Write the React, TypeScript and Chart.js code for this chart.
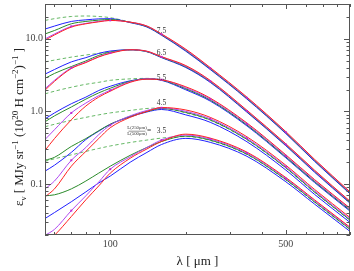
import React, { useEffect, useRef } from "react";
import { Chart, registerables } from "chart.js";

Chart.register(...registerables);

// wavelength grid (μm)
const wavelengths = [55, 60, 70, 80, 90, 100, 120, 140, 160, 200, 250, 350, 500, 650, 900];

// L(250)/L(500) = 7.5
const red75 = [9.54, 11.26, 14.46, 16.03, 17.06, 17.82, 16.9, 14.92, 11.62, 7.16, 4.01, 1.574, 0.527, 0.22, 0.0784];
const mag75 = [9.94, 11.62, 14.78, 16.23, 17.28, 17.88, 16.9, 14.92, 11.51, 7.0, 3.93, 1.539, 0.516, 0.215, 0.0767];
const green75 = [11.62, 12.96, 16.03, 17.28, 17.99, 18.39, 16.8, 14.69, 11.33, 6.88, 3.86, 1.511, 0.506, 0.211, 0.0753];
const blue75 = [13.58, 14.92, 17.28, 18.16, 18.74, 18.86, 16.64, 14.46, 11.15, 6.72, 3.77, 1.478, 0.495, 0.206, 0.0736];
const dash75 = [17.82, 18.86, 20.2, 20.52, 20.2, 19.45, 16.9, 14.69, 11.33, 6.88, 3.86, 1.511, 0.506, 0.211, 0.0753];

// 6.5
const red65 = [1.957, 2.593, 3.892, 4.695, 5.61, 6.28, 7.05, 6.73, 5.66, 4.27, 2.67, 1.038, 0.359, 0.156, 0.0583];
const mag65 = [2.051, 2.676, 3.98, 4.77, 5.66, 6.38, 7.05, 6.71, 5.63, 4.18, 2.61, 1.015, 0.351, 0.152, 0.057];
const green65 = [2.849, 3.33, 4.14, 4.95, 5.9, 6.52, 7.05, 6.66, 5.56, 4.1, 2.57, 0.997, 0.345, 0.15, 0.056];
const blue65 = [3.26, 3.77, 4.8, 5.49, 6.28, 6.77, 7.05, 6.62, 5.49, 4.01, 2.51, 0.975, 0.337, 0.146, 0.0547];
const dash65 = [4.8, 5.08, 5.58, 5.97, 6.28, 6.56, 7.0, 6.62, 5.56, 4.1, 2.57, 0.997, 0.345, 0.15, 0.056];

// 5.5
const red55 = [0.291, 0.4235, 0.767, 1.187, 1.573, 1.897, 2.513, 2.778, 2.718, 2.18, 1.525, 0.694, 0.253, 0.1158, 0.0468];
const mag55 = [0.411, 0.561, 0.954, 1.304, 1.649, 1.957, 2.553, 2.804, 2.735, 2.11, 1.478, 0.673, 0.245, 0.1123, 0.0454];
const green55 = [0.72, 0.869, 1.151, 1.477, 1.799, 2.084, 2.593, 2.804, 2.709, 2.05, 1.432, 0.651, 0.237, 0.1087, 0.044];
const blue55 = [0.791, 0.954, 1.276, 1.573, 1.94, 2.218, 2.634, 2.804, 2.676, 1.98, 1.388, 0.632, 0.23, 0.1054, 0.0426];
const dash55 = [1.744, 1.897, 2.15, 2.361, 2.513, 2.676, 2.804, 2.849, 2.718, 2.05, 1.432, 0.651, 0.237, 0.1087, 0.044];

// 4.5
const red45 = [0.067, 0.0861, 0.1766, 0.2821, 0.4235, 0.597, 0.829, 1.0, 1.133, 1.047, 0.829, 0.448, 0.182, 0.0848, 0.0348];
const mag45 = [0.0861, 0.1105, 0.213, 0.3197, 0.48, 0.646, 0.869, 1.032, 1.122, 1.0, 0.792, 0.427, 0.174, 0.0809, 0.0332];
const green45 = [0.213, 0.2339, 0.33, 0.4235, 0.544, 0.666, 0.855, 1.0, 1.098, 0.969, 0.767, 0.414, 0.1685, 0.0784, 0.0322];
const blue45 = [0.151, 0.1822, 0.2734, 0.411, 0.535, 0.666, 0.842, 0.984, 1.064, 0.896, 0.709, 0.383, 0.156, 0.0725, 0.0298];
const dash45 = [0.616, 0.666, 0.755, 0.829, 0.897, 0.954, 1.032, 1.098, 1.115, 0.954, 0.755, 0.407, 0.166, 0.0771, 0.0317];

// 3.5
const red35 = [0.01544, 0.01983, 0.0359, 0.061, 0.0945, 0.1419, 0.2267, 0.305, 0.386, 0.487, 0.43, 0.276, 0.1232, 0.061, 0.0256];
const mag35 = [0.01983, 0.0239, 0.0433, 0.0692, 0.1071, 0.1608, 0.2376, 0.3197, 0.404, 0.473, 0.417, 0.2676, 0.1195, 0.0591, 0.0249];
const green35 = [0.0692, 0.0714, 0.0861, 0.1105, 0.1419, 0.1766, 0.249, 0.3197, 0.386, 0.458, 0.404, 0.2593, 0.1158, 0.0573, 0.0241];
const blue35 = [0.0337, 0.0407, 0.0573, 0.0784, 0.1038, 0.1292, 0.2001, 0.2734, 0.351, 0.426, 0.376, 0.2414, 0.1078, 0.0533, 0.0224];
const dash35 = [0.2064, 0.2233, 0.2529, 0.2821, 0.31, 0.335, 0.374, 0.404, 0.43, 0.451, 0.398, 0.2552, 0.1139, 0.0564, 0.0237];

// photometric bands (μm) marked on the magenta model
const bands = [70, 100, 160, 250, 350, 500];

const ratioLabels = ["7.5", "6.5", "5.5", "4.5", "3.5"];
const labelWavelength = 160;
const labelLevels = [12.8, 6.42, 2.85, 1.3, 0.535];

const xMajorTicks = [100, 500];
const xMinorTicks = [60, 70, 80, 90, 200, 300, 400, 600, 700, 800, 900];
const yMajorTicks = [0.1, 1, 10];
const yMinorTicks = [0.02, 0.03, 0.04, 0.05, 0.06, 0.07, 0.08, 0.09, 0.2, 0.3, 0.4, 0.5, 0.6, 0.7, 0.8, 0.9, 2, 3, 4, 5, 6, 7, 8, 9, 20, 30];

const groups = [
  { red: red75, mag: mag75, green: green75, blue: blue75, dash: dash75 },
  { red: red65, mag: mag65, green: green65, blue: blue65, dash: dash65 },
  { red: red55, mag: mag55, green: green55, blue: blue55, dash: dash55 },
  { red: red45, mag: mag45, green: green45, blue: blue45, dash: dash45 },
  { red: red35, mag: mag35, green: green35, blue: blue35, dash: dash35 },
];

const COLORS = {
  red: "#ff2222",
  mag: "#b048f0",
  green: "#2a8a2a",
  blue: "#2020ff",
  dash: "#66b866",
  marker: "#c028d0",
};

const FONT = '"Liberation Serif", "DejaVu Serif", serif';

const toPts = (vals: number[]) => wavelengths.map((w, i) => ({ x: w, y: vals[i] }));
const markerPts = (vals: number[]) =>
  bands.map((b) => ({ x: b, y: vals[wavelengths.indexOf(b)] }));

function buildDatasets() {
  const ds: any[] = [];
  groups.forEach((g) => {
    ds.push({
      data: markerPts(g.mag),
      showLine: false,
      pointRadius: 1.4,
      pointStyle: "rect",
      pointBackgroundColor: COLORS.marker,
      pointBorderWidth: 0,
    });
  });
  const kinds: Array<"red" | "mag" | "green" | "blue" | "dash"> = ["red", "mag", "green", "blue", "dash"];
  kinds.forEach((k) => {
    groups.forEach((g) => {
      ds.push({
        data: toPts(g[k]),
        borderColor: COLORS[k],
        borderWidth: 1,
        borderDash: k === "dash" ? [3.5, 2.5] : [],
        pointRadius: 0,
        cubicInterpolationMode: "monotone",
        fill: false,
      });
    });
  });
  return ds;
}

type Seg = { t: string; sup?: boolean; sub?: boolean };

function drawRich(ctx: CanvasRenderingContext2D, segs: Seg[], size: number) {
  const small = Math.round(size * 0.68);
  const fontOf = (s: Seg) => `${s.sup || s.sub ? small : size}px ${FONT}`;
  let total = 0;
  const widths = segs.map((s) => {
    ctx.font = fontOf(s);
    const w = ctx.measureText(s.t).width;
    total += w;
    return w;
  });
  let cx = -total / 2;
  ctx.textAlign = "left";
  ctx.textBaseline = "alphabetic";
  segs.forEach((s, i) => {
    ctx.font = fontOf(s);
    const dy = s.sup ? -size * 0.42 : s.sub ? size * 0.25 : 0;
    ctx.fillText(s.t, cx, dy);
    cx += widths[i];
  });
}

const yTitle: Seg[] = [
  { t: "ε" },
  { t: "ν", sub: true },
  { t: " [ MJy sr" },
  { t: "−1", sup: true },
  { t: " (10" },
  { t: "20", sup: true },
  { t: " H cm" },
  { t: "−2", sup: true },
  { t: ")" },
  { t: "−1", sup: true },
  { t: " ]" },
];

const framePlugin = {
  id: "frameTicks",
  afterDraw(chart: any) {
    const { ctx, chartArea: a, scales } = chart;
    const x = scales.x;
    const y = scales.y;
    ctx.save();
    ctx.strokeStyle = "#555";
    ctx.lineWidth = 1;
    ctx.beginPath();
    const seg = (x1: number, y1: number, x2: number, y2: number) => {
      ctx.moveTo(x1, y1);
      ctx.lineTo(x2, y2);
    };
    const xt = (v: number, len: number) => {
      const px = Math.round(x.getPixelForValue(v)) + 0.5;
      seg(px, a.bottom, px, a.bottom - len);
      seg(px, a.top, px, a.top + len);
    };
    const yt = (v: number, len: number) => {
      const py = Math.round(y.getPixelForValue(v)) + 0.5;
      seg(a.left, py, a.left + len, py);
      seg(a.right, py, a.right - len, py);
    };
    xMajorTicks.forEach((v) => xt(v, 5));
    xMinorTicks.forEach((v) => xt(v, 3));
    yMajorTicks.forEach((v) => yt(v, 6));
    yMinorTicks.forEach((v) => yt(v, 3.5));
    ctx.stroke();
    ctx.strokeRect(a.left + 0.5, a.top + 0.5, a.right - a.left - 1, a.bottom - a.top - 1);
    ctx.restore();
  },
};

const textPlugin = {
  id: "annotations",
  afterDraw(chart: any) {
    const { ctx, chartArea: a, scales } = chart;
    const x = scales.x;
    const y = scales.y;
    ctx.save();
    ctx.fillStyle = "#333";
    ctx.textAlign = "center";
    ctx.textBaseline = "middle";
    const lx = x.getPixelForValue(labelWavelength);
    ctx.font = `7.5px ${FONT}`;
    ratioLabels.forEach((t, i) => {
      ctx.fillText(t, lx, y.getPixelForValue(labelLevels[i]));
    });
    const fy = y.getPixelForValue(labelLevels[4]);
    ctx.font = `4.8px ${FONT}`;
    ctx.fillText("L(250μm)", lx - 24.5, fy - 3);
    ctx.fillText("L(500μm)", lx - 24.5, fy + 2.8);
    ctx.strokeStyle = "#333";
    ctx.lineWidth = 0.5;
    ctx.beginPath();
    ctx.moveTo(lx - 33, fy);
    ctx.lineTo(lx - 16, fy);
    ctx.stroke();
    ctx.font = `7.5px ${FONT}`;
    ctx.fillText("=", lx - 12.5, fy);

    // axis titles
    ctx.fillStyle = "#222";
    ctx.save();
    ctx.translate((a.left + a.right) / 2, 265);
    drawRich(ctx, [{ t: "λ [ μm ]" }], 13);
    ctx.restore();

    ctx.save();
    ctx.translate(23, 127);
    ctx.rotate(-Math.PI / 2);
    drawRich(ctx, yTitle, 13);
    ctx.restore();
    ctx.restore();
  },
};

const zeroPad = (s: any) => {
  s.paddingTop = 0;
  s.paddingBottom = 0;
  s.paddingLeft = 0;
  s.paddingRight = 0;
};

export default function App() {
  const canvasRef = useRef<HTMLCanvasElement | null>(null);

  useEffect(() => {
    if (!canvasRef.current) return;
    const chart = new Chart(canvasRef.current, {
      type: "line",
      data: { datasets: buildDatasets() },
      options: {
        responsive: false,
        animation: false,
        devicePixelRatio: 1,
        layout: { padding: { top: 1, right: 1, left: 0, bottom: 0 } },
        plugins: { legend: { display: false }, tooltip: { enabled: false } },
        scales: {
          x: {
            type: "logarithmic",
            min: 55,
            max: 900,
            grid: { display: false, drawTicks: false },
            border: { display: false },
            afterBuildTicks: (s: any) => {
              s.ticks = xMajorTicks.map((v) => ({ value: v }));
            },
            afterFit: (s: any) => {
              s.height = 36;
              zeroPad(s);
            },
            ticks: {
              padding: 3,
              color: "#444",
              autoSkip: false,
              maxRotation: 0,
              font: { family: FONT, size: 10 },
              callback: (v: any) => String(v),
            },
          },
          y: {
            type: "logarithmic",
            min: 0.02,
            max: 30,
            grid: { display: false, drawTicks: false },
            border: { display: false },
            afterBuildTicks: (s: any) => {
              s.ticks = yMajorTicks.map((v) => ({ value: v }));
            },
            afterFit: (s: any) => {
              s.width = 45;
              zeroPad(s);
            },
            ticks: {
              padding: 2,
              color: "#444",
              autoSkip: false,
              font: { family: FONT, size: 10 },
              callback: (v: any) => Number(v).toFixed(1),
            },
          },
        },
      } as any,
      plugins: [framePlugin, textPlugin],
    });
    return () => chart.destroy();
  }, []);

  return (
    <div style={{ position: "fixed", left: 0, top: 0, width: 354, height: 271, background: "#fff" }}>
      <canvas ref={canvasRef} width={354} height={271} />
    </div>
  );
}
